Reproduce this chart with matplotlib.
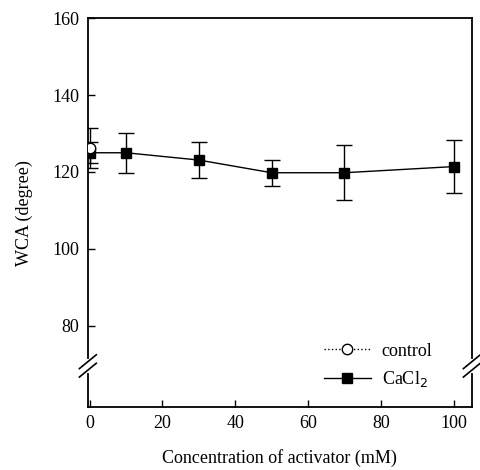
import matplotlib
matplotlib.use("Agg")
import matplotlib.pyplot as plt
from matplotlib.lines import Line2D

plt.rcParams['font.family'] = ['Liberation Serif', 'DejaVu Serif']

# Data
control_x = [0]
control_y = [126.2]
control_err = [5.2]

cacl2_x = [0, 10, 30, 50, 70, 100]
cacl2_y = [125.0, 125.0, 123.1, 119.8, 119.8, 121.4]
cacl2_err = [2.7, 5.2, 4.8, 3.4, 7.2, 7.0]

xticks = [0, 20, 40, 60, 80, 100]
yticks = [80, 100, 120, 140, 160]

fig = plt.figure(figsize=(4.8, 4.7), dpi=100)
ax = fig.add_axes([0.183, 0.134, 0.800, 0.827])

ax.errorbar(cacl2_x, cacl2_y, yerr=cacl2_err, fmt='s-', color='black',
            mfc='black', mec='black', ms=6.5, lw=1.0, elinewidth=1.0,
            capsize=5.5, capthick=1.0, zorder=3)
ax.errorbar(control_x, control_y, yerr=control_err, fmt='o:', color='black',
            mfc='white', mec='black', ms=7.5, lw=1.0, elinewidth=1.0,
            capsize=5.5, capthick=1.0, zorder=4)

ax.set_xlim(-0.5, 105)
ax.set_ylim(58.8, 160)
ax.set_xticks(xticks)
ax.set_yticks(yticks)
ax.tick_params(direction='in', length=5, width=1.0, labelsize=13, pad=6)
for s in ax.spines.values():
    s.set_linewidth(1.3)

ax.set_xlabel('Concentration of activator (mM)', fontsize=13, labelpad=12)
ax.set_ylabel('WCA (degree)', fontsize=13, labelpad=14)

# Axis break marks
ybreak = 69.5
tr = ax.get_yaxis_transform()
for xb in (0.0, 1.0):
    ax.plot([xb, xb], [ybreak - 1.3, ybreak + 1.3], transform=tr,
            color='white', lw=3, clip_on=False, zorder=5)
    for off in (-1.1, 1.1):
        ax.plot([xb - 0.022, xb + 0.022], [ybreak + off - 1.8, ybreak + off + 1.8],
                transform=tr, color='black', lw=1.2, clip_on=False, zorder=6)

handles = [
    Line2D([], [], color='black', ls=':', lw=1.0, marker='o', mfc='white',
           mec='black', ms=7.5),
    Line2D([], [], color='black', ls='-', lw=1.0, marker='s', mfc='black',
           mec='black', ms=6.5),
]
ax.legend(handles, ['control', 'CaCl$_2$'], loc='lower right',
          bbox_to_anchor=(0.94, 0.005), frameon=False, fontsize=13,
          handlelength=2.6, handletextpad=0.6, labelspacing=0.5)

fig.savefig('out.png', dpi=100)
